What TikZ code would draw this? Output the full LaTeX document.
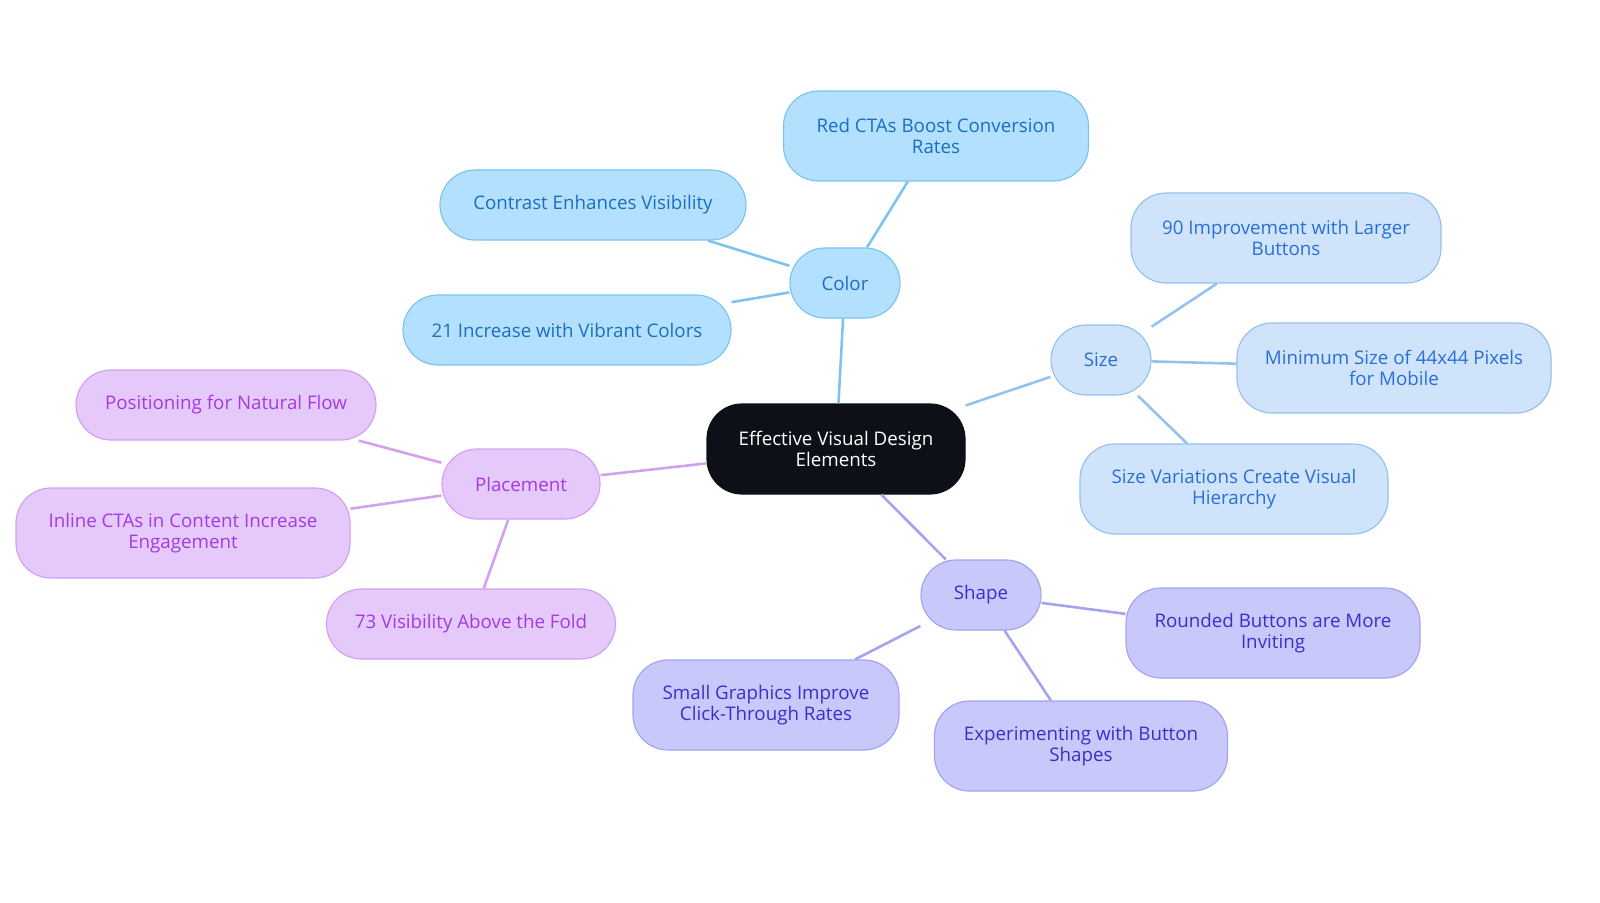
\documentclass[tikz,border=0pt]{standalone}
\usepackage{fontspec}
\setmainfont{Open Sans}
\definecolor{rootfill}{HTML}{0D1117}
\definecolor{colfill}{HTML}{B3E0FF}\definecolor{colline}{HTML}{7CC4F0}\definecolor{coltext}{HTML}{1A6FBF}
\definecolor{sizfill}{HTML}{CFE3FB}\definecolor{sizline}{HTML}{94C2F0}\definecolor{siztext}{HTML}{2A6FD6}
\definecolor{shpfill}{HTML}{C8C8FB}\definecolor{shpline}{HTML}{A3A3F0}\definecolor{shptext}{HTML}{3B2FC9}
\definecolor{plcfill}{HTML}{E6C9FB}\definecolor{plcline}{HTML}{D3A0F0}\definecolor{plctext}{HTML}{A23BE0}
\tikzset{
  box/.style={rounded corners=1.05cm, draw, line width=1pt, align=center,
    font=\fontsize{16}{17.5}\selectfont, inner sep=0pt},
  wh/.style 2 args={minimum width=#1*0.03cm, minimum height=#2*0.03cm},
  colbox/.style={box, fill=colfill, draw=colline, text=coltext},
  sizbox/.style={box, fill=sizfill, draw=sizline, text=siztext},
  shpbox/.style={box, fill=shpfill, draw=shpline, text=shptext},
  plcbox/.style={box, fill=plcfill, draw=plcline, text=plctext},
}
\begin{document}
\begin{tikzpicture}[x=0.03cm,y=-0.03cm]
  \useasboundingbox (0,0) rectangle (1600,903);

  \node[box, fill=rootfill, draw=rootfill, text=white, wh={258}{90}] (root) at (836,449) {Effective Visual Design\\Elements};

  % color branch
  \node[colbox, wh={110}{70}] (color) at (845,283) {Color};
  \node[colbox, wh={305}{90}] (red) at (936,136) {Red CTAs Boost Conversion\\Rates};
  \node[colbox, wh={306}{70}] (contrast) at (593,205) {Contrast Enhances Visibility};
  \node[colbox, wh={328}{70}] (vibrant) at (567,330) {21 Increase with Vibrant Colors};

  % size branch
  \node[sizbox, wh={100}{70}] (size) at (1101,360) {Size};
  \node[sizbox, wh={310}{90}] (larger) at (1286,238) {90 Improvement with Larger\\Buttons};
  \node[sizbox, wh={314}{90}] (minimum) at (1394,368) {Minimum Size of 44x44 Pixels\\for Mobile};
  \node[sizbox, wh={308}{90}] (hierarchy) at (1234,489) {Size Variations Create Visual\\Hierarchy};

  % shape branch
  \node[shpbox, wh={120}{70}] (shape) at (981,595) {Shape};
  \node[shpbox, wh={294}{90}] (rounded) at (1273,633) {Rounded Buttons are More\\Inviting};
  \node[shpbox, wh={293}{90}] (experiment) at (1081,746) {Experimenting with Button\\Shapes};
  \node[shpbox, wh={266}{90}] (graphics) at (766,705) {Small Graphics Improve\\Click-Through Rates};

  % placement branch
  \node[plcbox, wh={158}{70}] (placement) at (521,484) {Placement};
  \node[plcbox, wh={300}{70}] (flow) at (226,405) {Positioning for Natural Flow};
  \node[plcbox, wh={334}{90}] (inline) at (183,533) {Inline CTAs in Content Increase\\Engagement};
  \node[plcbox, wh={289}{70}] (fold) at (471,624) {73 Visibility Above the Fold};

  \begin{scope}[line width=2.2pt]
    \draw[colline] (root) -- (color);
    \draw[colline] (color) -- (red);
    \draw[colline] (color) -- (contrast);
    \draw[colline] (color) -- (vibrant);
    \draw[sizline] (root) -- (size);
    \draw[sizline] (size) -- (larger);
    \draw[sizline] (size) -- (minimum);
    \draw[sizline] (size) -- (hierarchy);
    \draw[shpline] (root) -- (shape);
    \draw[shpline] (shape) -- (rounded);
    \draw[shpline] (shape) -- (experiment);
    \draw[shpline] (shape) -- (graphics);
    \draw[plcline] (root) -- (placement);
    \draw[plcline] (placement) -- (flow);
    \draw[plcline] (placement) -- (inline);
    \draw[plcline] (placement) -- (fold);
  \end{scope}
\end{tikzpicture}
\end{document}
